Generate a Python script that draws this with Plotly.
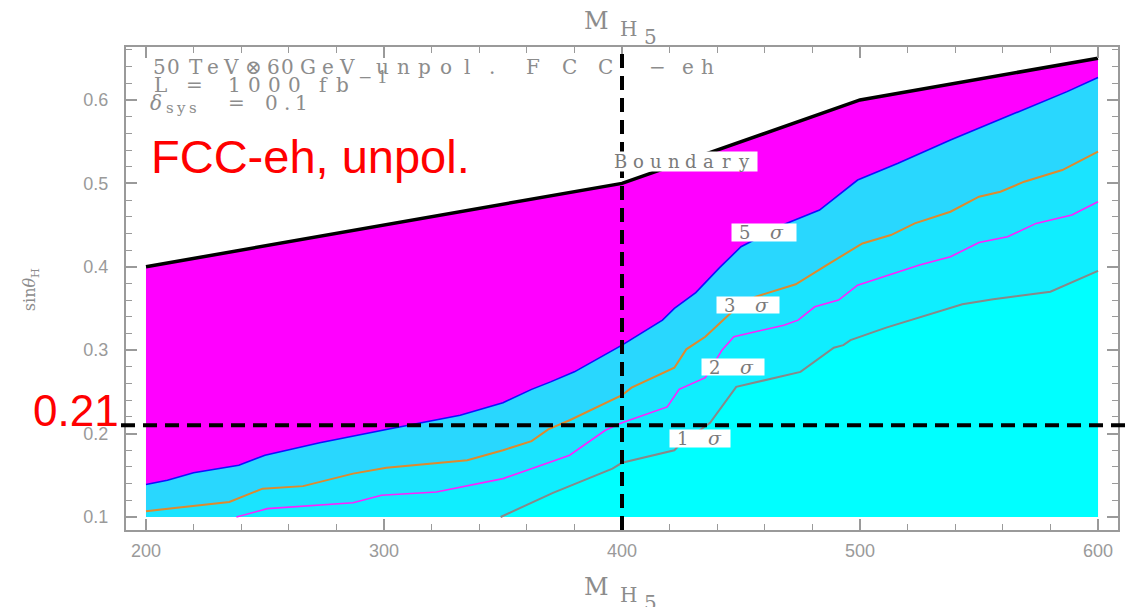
import plotly.graph_objects as go

# ---------------- data ----------------
mh_boundary = [200, 400, 500, 600]
sin_boundary = [0.400, 0.500, 0.600, 0.650]

mh_5sigma = [200, 209, 220, 239, 250, 273, 301, 332, 350, 362, 370, 380, 400, 417, 422,
             431, 441, 450, 469, 483, 499, 516, 538, 579, 587, 600]
sin_5sigma = [0.139, 0.144, 0.153, 0.162, 0.174, 0.189, 0.205, 0.222, 0.237, 0.253, 0.262,
              0.274, 0.306, 0.336, 0.350, 0.369, 0.399, 0.424, 0.452, 0.468, 0.504, 0.524,
              0.552, 0.600, 0.610, 0.627]

mh_3sigma = [200, 235, 249, 266, 287, 301, 335, 350, 362, 369, 378, 400, 404, 422, 427,
             435, 444, 447, 456, 473, 486, 492, 501, 513, 523, 538, 550, 559, 569, 585, 600]
sin_3sigma = [0.107, 0.118, 0.134, 0.137, 0.152, 0.159, 0.168, 0.180, 0.191, 0.205, 0.216,
              0.246, 0.255, 0.279, 0.301, 0.316, 0.340, 0.348, 0.364, 0.379, 0.402, 0.412,
              0.428, 0.438, 0.452, 0.466, 0.484, 0.490, 0.502, 0.516, 0.538]

mh_2sigma = [238, 251, 287, 299, 322, 350, 364, 378, 393, 400, 419, 424, 435, 442, 447,
             468, 474, 481, 491, 499, 525, 538, 550, 562, 574, 589, 600]
sin_2sigma = [0.100, 0.110, 0.117, 0.126, 0.130, 0.146, 0.160, 0.174, 0.204, 0.213, 0.232,
              0.253, 0.267, 0.300, 0.316, 0.330, 0.336, 0.352, 0.360, 0.378, 0.402, 0.412,
              0.429, 0.436, 0.452, 0.462, 0.478]

mh_1sigma = [349, 371, 396, 400, 422, 424, 437, 448, 475, 489, 493, 496, 511, 543, 556, 580, 600]
sin_1sigma = [0.100, 0.129, 0.158, 0.165, 0.180, 0.186, 0.213, 0.256, 0.274, 0.303, 0.306,
              0.312, 0.327, 0.355, 0.361, 0.370, 0.395]

sin_floor = 0.10          # lower edge of the scanned region
mh_ref = 400              # reference mass (vertical dashed line)
sin_ref = 0.21            # reference mixing (horizontal dashed line)

x_ticks = [200, 300, 400, 500, 600]
y_ticks = [0.1, 0.2, 0.3, 0.4, 0.5, 0.6]
y_ticktext = ["0.1", "0.2", "0.3", "0.4", "0.5", "0.6"]

# ---------------- layout helpers ----------------
W, H = 1131, 607
L, R, T, B = 126, 1120, 47, 530


def pxx(x):
    return (x - L) / (R - L)


def pxy(y):
    return (B - y) / (B - T)


GRAY = "#8c8c8c"
SERIF = "DejaVu Serif"

fig = go.Figure()

regions = [
    (mh_boundary, sin_boundary, "#FF00FF"),
    (mh_5sigma, sin_5sigma, "#29D7FE"),
    (mh_3sigma, sin_3sigma, "#1AE4FF"),
    (mh_2sigma, sin_2sigma, "#0FEEFF"),
    (mh_1sigma, sin_1sigma, "#00FFFF"),
]
for xs, ys, col in regions:
    fig.add_trace(go.Scatter(
        x=list(xs) + [xs[-1], xs[0]],
        y=list(ys) + [sin_floor, sin_floor],
        fill="toself", fillcolor=col, mode="lines",
        line=dict(width=0), hoverinfo="skip", showlegend=False))

lines = [
    (mh_5sigma, sin_5sigma, "#1010FF", 1.6),
    (mh_3sigma, sin_3sigma, "#DE8A2E", 2.0),
    (mh_2sigma, sin_2sigma, "#FF20FF", 1.6),
    (mh_1sigma, sin_1sigma, "#888888", 2.0),
    (mh_boundary, sin_boundary, "#000000", 3.5),
]
for xs, ys, col, w in lines:
    fig.add_trace(go.Scatter(x=xs, y=ys, mode="lines",
                             line=dict(color=col, width=w),
                             hoverinfo="skip", showlegend=False))

# dashed reference lines
fig.add_shape(type="line", xref="x", yref="paper", x0=mh_ref, x1=mh_ref, y0=0, y1=1,
              line=dict(color="black", width=4, dash="14px,8px"), layer="above")
fig.add_shape(type="line", xref="paper", yref="y", x0=pxx(121), x1=pxx(1131),
              y0=sin_ref, y1=sin_ref,
              line=dict(color="black", width=4, dash="14px,8px"), layer="above")

ann = []


def txt(text, x, y, size=19, color=GRAY, family=SERIF, xanchor="center", **kw):
    ann.append(dict(text=text, x=pxx(x), y=pxy(y), xref="paper", yref="paper",
                    xanchor=xanchor, yanchor="middle", showarrow=False,
                    font=dict(size=size, color=color, family=family), **kw))


def wide(word, left, right, y, size=20, italic=False, color=GRAY):
    """Spread the glyphs of a word over [left, right] (wide Hershey-like lettering)."""
    n = len(word)
    step = (right - left) / n
    for i, ch in enumerate(word):
        t = f"<i>{ch}</i>" if italic else ch
        txt(t, left + (i + 0.5) * step, y, size=size, color=color)


# header text
y1, y2, y3 = 67, 85, 103
for w, a, b in [("50", 153, 180), ("TeV", 187, 240), ("⊗", 246, 262), ("60", 267, 295),
                ("GeV", 299, 357), ("unpol", 372, 478), (".", 488, 498), ("FCC", 515, 625),
                ("−", 650, 668), ("eh", 680, 718)]:
    wide(w, a, b, y1)
for w, a, b in [("L", 154, 167), ("=", 184, 205), ("1000", 225, 305), ("fb", 314, 352)]:
    wide(w, a, b, y2)
wide("−1", 357, 392, 77, size=17)
wide("δ", 150, 162, y3, italic=True)
wide("sys", 164, 199, 108, size=15)
wide("=", 227, 246, y3)
wide("0.1", 264, 310, y3)

# contour labels: white boxes, then wide lettering
LBL = "#7a7a7a"
for cx, cy, w, h in [(684, 161, 148, 19), (765, 232, 64, 17), (749, 305, 62, 16),
                     (734, 367, 62, 16), (701, 438, 60, 17)]:
    txt("\u00a0", cx, cy, size=10, bgcolor="white", width=w, height=h, borderpad=0)
wide("Boundary", 613, 754, 161, size=18, color=LBL)
for num, left, cy in [("5", 733, 232), ("3", 718, 305), ("2", 703, 367), ("1", 671, 438)]:
    txt(num, left + 13, cy, size=18, color=LBL)
    txt("<i>σ</i>", left + 45, cy, size=19, color=LBL)

# axis titles (M_H5 at top and bottom)
for yoff in (0, 566):
    txt("M", 597, 21 + yoff, size=24)
    txt("H", 630, 29 + yoff, size=20)
    txt("5", 652, 37 + yoff, size=20)
ann.append(dict(text="sin<i>θ</i><sub>H</sub>", x=pxx(30), y=pxy(290), xref="paper",
                yref="paper", textangle=-90, showarrow=False, xanchor="center",
                yanchor="middle", font=dict(size=16, color=GRAY, family=SERIF)))

# red overlays
txt("FCC-eh, unpol.", 149, 156, size=47, color="#FF0000", family="Liberation Sans",
    xanchor="left")
txt("0.21", 121, 410, size=44, color="#FF0000", family="Liberation Sans", xanchor="right")

axis_common = dict(
    showgrid=False, zeroline=False, showline=True, linecolor="#9a9a9a", linewidth=2,
    mirror="ticks", ticks="inside", ticklen=11, tickwidth=1.5, tickcolor="#9a9a9a",
    tickfont=dict(family="Liberation Sans", size=18, color="#9a9a9a"),
)

fig.update_layout(
    width=W, height=H,
    margin=dict(l=L, r=W - R, t=T, b=H - B, pad=0),
    paper_bgcolor="white", plot_bgcolor="white",
    xaxis=dict(range=[191.6, 608.4], tickvals=x_ticks,
               minor=dict(dtick=20, tick0=200, ticks="inside", ticklen=6,
                          tickcolor="#9a9a9a", tickwidth=1.2),
               ticklabelstandoff=3, **axis_common),
    yaxis=dict(range=[0.0844, 0.6635], tickvals=y_ticks, ticktext=y_ticktext,
               minor=dict(dtick=0.02, tick0=0.1, ticks="inside", ticklen=6,
                          tickcolor="#9a9a9a", tickwidth=1.2),
               ticklabelstandoff=12, **axis_common),
    annotations=ann,
    showlegend=False,
)

fig.write_html("out.html")
